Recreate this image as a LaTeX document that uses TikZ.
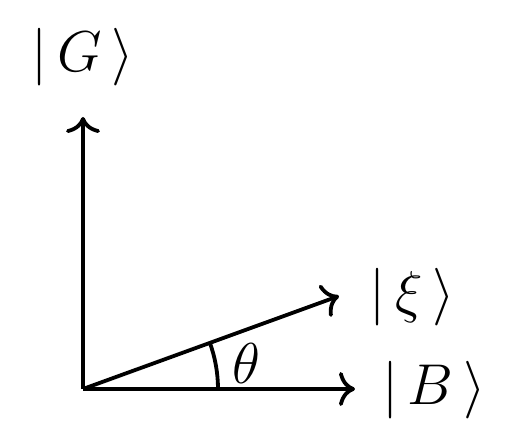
\documentclass[tikz,border=0pt]{standalone}
\usetikzlibrary{arrows.meta}
\begin{document}
\begin{tikzpicture}[x=0.25pt,y=-0.25pt,
  vec/.style={line width=0.95pt,-{To[length=4pt,width=8.5pt]}},
  lbl/.style={inner sep=0pt,font=\fontsize{15}{18}\selectfont}]
\useasboundingbox (0,0) rectangle (529,447);
\coordinate (O) at (83,389);
\coordinate (Gt) at (83,117);
\coordinate (Bt) at (355,389);
\coordinate (Xt) at (339,296);
\draw[vec] (O) -- (Gt);
\draw[vec] (O) -- (Bt);
\draw[vec] (O) -- (Xt);
\draw[line width=0.95pt] (218,389) arc[start angle=0,end angle=-20.1,radius=135];
\node[lbl] (G) at (83,57) {$|\,G\,\rangle$};
\node[lbl] (X) at (412,297) {$|\,\xi\,\rangle$};
\node[lbl] (B) at (434,390) {$|\,B\,\rangle$};
\node[lbl] (T) at (246,364) {$\theta$};
\end{tikzpicture}
\end{document}
